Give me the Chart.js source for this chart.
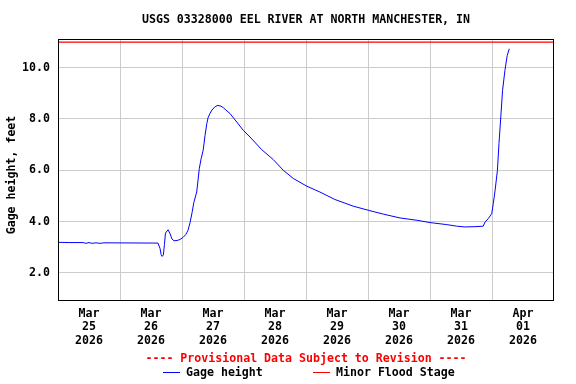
<!DOCTYPE html>
<html><head><meta charset="utf-8">
<script src="https://cdn.jsdelivr.net/npm/chart.js@4/dist/chart.umd.min.js"></script>
<style>html,body{margin:0;padding:0;background:#fff}#wrap{width:576px;height:384px}</style>
</head><body><div id="wrap"><canvas id="c" width="576" height="384"></canvas></div>
<script>
const chartTitle = 'USGS 03328000 EEL RIVER AT NORTH MANCHESTER, IN';
const yAxisTitle = 'Gage height, feet';
const provisionalNote = '---- Provisional Data Subject to Revision ----';
const seriesNames = ['Gage height', 'Minor Flood Stage'];
// hours since Mar 25 2026 00:00
const hours = [0,4.6,9.7,10.8,12.0,13.2,14.7,16.3,17.8,38.7,39.5,39.9,40.3,40.8,41.2,41.6,42.6,43.4,44.1,44.9,46.1,47.2,48.4,49.5,50.3,51.1,51.9,52.6,53.7,54.7,55.4,56.2,56.9,57.6,58.1,58.8,59.6,60.8,61.9,63.1,64.0,65.0,66.6,68.9,71.7,74.3,78.9,83.3,87.2,91.1,96.3,101.4,107.2,114.3,120.1,125.9,132.4,138.9,144.0,150.5,154.3,157.5,161.4,164.6,165.3,166.6,167.9,168.5,169.2,170.1,170.7,171.4,172.1,173.0,173.9,174.7];
const gageFeet = [3.19,3.18,3.18,3.15,3.18,3.15,3.17,3.15,3.17,3.16,2.95,2.72,2.64,2.70,3.10,3.55,3.68,3.52,3.32,3.25,3.26,3.30,3.38,3.50,3.65,3.95,4.35,4.75,5.15,6.07,6.45,6.78,7.35,7.82,8.05,8.21,8.35,8.48,8.53,8.50,8.44,8.35,8.21,7.92,7.56,7.30,6.80,6.42,6.00,5.68,5.38,5.15,4.86,4.60,4.44,4.29,4.14,4.05,3.96,3.88,3.82,3.79,3.80,3.82,3.98,4.12,4.31,4.70,5.22,6.00,7.04,8.08,9.12,9.89,10.48,10.74];
const floodStageFeet = 11.0;
const floodHours = [0, 192];
const dayLabels = [['Mar','25','2026'],['Mar','26','2026'],['Mar','27','2026'],['Mar','28','2026'],['Mar','29','2026'],['Mar','30','2026'],['Mar','31','2026'],['Apr','01','2026']];
const yTicks = [2, 4, 6, 8, 10];
const xTickHours = [0,12,24,36,48,60,72,84,96,108,120,132,144,156,168,180,192];

const FONT = '"DejaVu Sans Mono", "Liberation Mono", monospace';
const FS = 11.6;

const framePlugin = {
  id: 'frame',
  afterDraw(chart) {
    const {ctx, chartArea: a} = chart;
    ctx.save();
    ctx.strokeStyle = '#000';
    ctx.lineWidth = 1;
    ctx.strokeRect(Math.round(a.left) + 0.5, Math.round(a.top) + 0.5, Math.round(a.right - a.left) - 1, Math.round(a.bottom - a.top));
    ctx.font = 'bold ' + FS + 'px ' + FONT;
    ctx.fillStyle = '#000';
    ctx.textBaseline = 'middle';
    // y axis title
    ctx.save();
    ctx.translate(12, 175);
    ctx.rotate(-Math.PI / 2);
    ctx.textAlign = 'center';
    ctx.fillText(yAxisTitle, 0, 0);
    ctx.restore();
    // provisional note
    ctx.textAlign = 'center';
    ctx.fillStyle = '#ff0000';
    ctx.fillText(provisionalNote, (a.left + a.right) / 2, 359);
    // legend
    ctx.textAlign = 'left';
    ctx.fillStyle = '#000';
    ctx.lineWidth = 1;
    ctx.strokeStyle = '#0000ff';
    ctx.beginPath(); ctx.moveTo(163, 372.5); ctx.lineTo(180, 372.5); ctx.stroke();
    ctx.fillText(seriesNames[0], 186, 373);
    ctx.strokeStyle = '#ff0000';
    ctx.beginPath(); ctx.moveTo(313, 372.5); ctx.lineTo(330, 372.5); ctx.stroke();
    ctx.fillText(seriesNames[1], 336, 373);
    ctx.restore();
  }
};

new Chart(document.getElementById('c'), {
  type: 'line',
  data: {
    datasets: [
      {
        label: seriesNames[0],
        data: hours.map((h, i) => ({x: h, y: gageFeet[i]})),
        borderColor: '#0000ff', borderWidth: 1, pointRadius: 0, tension: 0, fill: false
      },
      {
        label: seriesNames[1],
        data: floodHours.map(h => ({x: h, y: floodStageFeet})),
        borderColor: '#ff0000', borderWidth: 1.2, pointRadius: 0, tension: 0, fill: false
      }
    ]
  },
  options: {
    responsive: false,
    animation: false,
    devicePixelRatio: 1,
    layout: {padding: {left: 0, right: 22, top: 0, bottom: 0}},
    plugins: {
      legend: {display: false},
      tooltip: {enabled: false},
      title: {
        display: true, text: chartTitle, fullSize: false, color: '#000',
        font: {family: FONT, size: FS, weight: 'bold', lineHeight: '14px'},
        padding: {top: 13, bottom: 12}
      }
    },
    scales: {
      x: {
        type: 'linear', min: 0, max: 192,
        afterBuildTicks: s => { s.ticks = xTickHours.map(v => ({value: v})); },
        afterFit: s => { s.height = 84; },
        ticks: {
          autoSkip: false, maxRotation: 0, minRotation: 0, padding: 7, color: '#000',
          font: {family: FONT, size: FS, weight: 'bold', lineHeight: '13.5px'},
          callback: v => (v % 24 === 12 ? dayLabels[(v - 12) / 24] : '')
        },
        grid: {
          drawTicks: false,
          color: c => (c.tick && c.tick.value % 24 === 0 && c.tick.value > 0 && c.tick.value < 192 ? '#cccccc' : 'rgba(0,0,0,0)'),
          lineWidth: 1
        },
        border: {display: false}
      },
      y: {
        min: 0.94, max: 11.12,
        afterBuildTicks: s => { s.ticks = yTicks.map(v => ({value: v})); },
        afterFit: s => { s.width = 58; },
        ticks: {
          padding: 8, color: '#000',
          font: {family: FONT, size: FS, weight: 'bold'},
          callback: v => Number(v).toFixed(1)
        },
        grid: {drawTicks: false, color: '#cccccc', lineWidth: 1},
        border: {display: false},
        title: {display: false}
      }
    }
  },
  plugins: [framePlugin]
});
</script>
</body></html>
